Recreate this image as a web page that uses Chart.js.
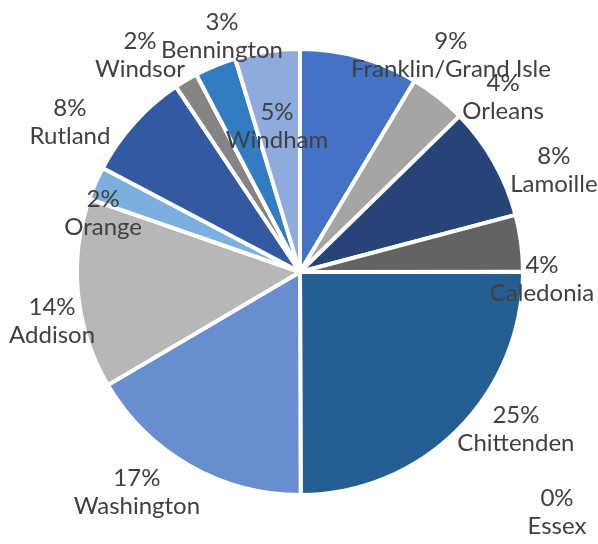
<!DOCTYPE html>
<html>
<head>
<meta charset="utf-8">
<script src="https://cdn.jsdelivr.net/npm/chart.js@4"></script>
<style>
  html, body { margin: 0; padding: 0; background: #ffffff; }
  #wrap { width: 598px; height: 544px; }
</style>
</head>
<body>
<div id="wrap"><canvas id="c" width="598" height="544"></canvas></div>
<script>
// ---- data ----
const categories = ['Franklin/Grand Isle', 'Orleans', 'Lamoille', 'Caledonia', 'Chittenden', 'Essex',
  'Washington', 'Addison', 'Orange', 'Rutland', 'Windsor', 'Bennington', 'Windham'];
const shares = [8.6, 4.1, 8.2, 4.1, 25.0, 0, 16.6, 13.8, 2.4, 7.9, 1.7, 3.0, 4.7];

// ---- styles / layout ----
const sliceColors = ['#4472C4', '#A5A5A5', '#264478', '#636363', '#255E91', '#1F4E79',
  '#698ED0', '#B7B7B7', '#7CAFDD', '#335AA1', '#848484', '#327DC2', '#8FAADC'];
// label block centres, relative to pie centre in units of the pie radius
const labelPlacement = [
  [0.683, -0.982], [0.919, -0.792], [1.149, -0.462], [1.095, 0.032], [0.977, 0.710], [1.163, 1.086],
  [-0.738, 0.995], [-1.122, 0.222], [-0.891, -0.267], [-1.041, -0.679], [-0.724, -0.982], [-0.353, -1.068],
  [-0.104, -0.661]
];
const BORDER = 4;

const labelPlugin = {
  id: 'outLabels',
  afterDatasetsDraw(chart) {
    const ctx = chart.ctx;
    const meta = chart.getDatasetMeta(0);
    const data = chart.data.datasets[0].data;
    const total = data.reduce((a, b) => a + b, 0);
    ctx.save();
    ctx.font = '24px Lato';
    ctx.fillStyle = '#404040';
    ctx.textAlign = 'center';
    ctx.textBaseline = 'middle';
    meta.data.forEach((arc, i) => {
      const p = arc.getProps(['x', 'y', 'outerRadius'], true);
      const R = p.outerRadius - BORDER / 2;
      const cx = p.x + labelPlacement[i][0] * R;
      const cy = p.y + labelPlacement[i][1] * R;
      const pct = Math.round(data[i] / total * 100) + '%';
      ctx.fillText(pct, cx, cy - 14);
      ctx.fillText(chart.data.labels[i], cx, cy + 14);
    });
    ctx.restore();
  }
};

new Chart(document.getElementById('c'), {
  type: 'pie',
  data: {
    labels: categories,
    datasets: [{
      data: shares,
      backgroundColor: sliceColors,
      borderColor: '#ffffff',
      borderWidth: BORDER
    }]
  },
  options: {
    responsive: false,
    animation: false,
    layout: { padding: { top: 47, bottom: 47, left: 2, right: 0 } },
    plugins: {
      legend: { display: false },
      tooltip: { enabled: false }
    }
  },
  plugins: [labelPlugin]
});
</script>
</body>
</html>
